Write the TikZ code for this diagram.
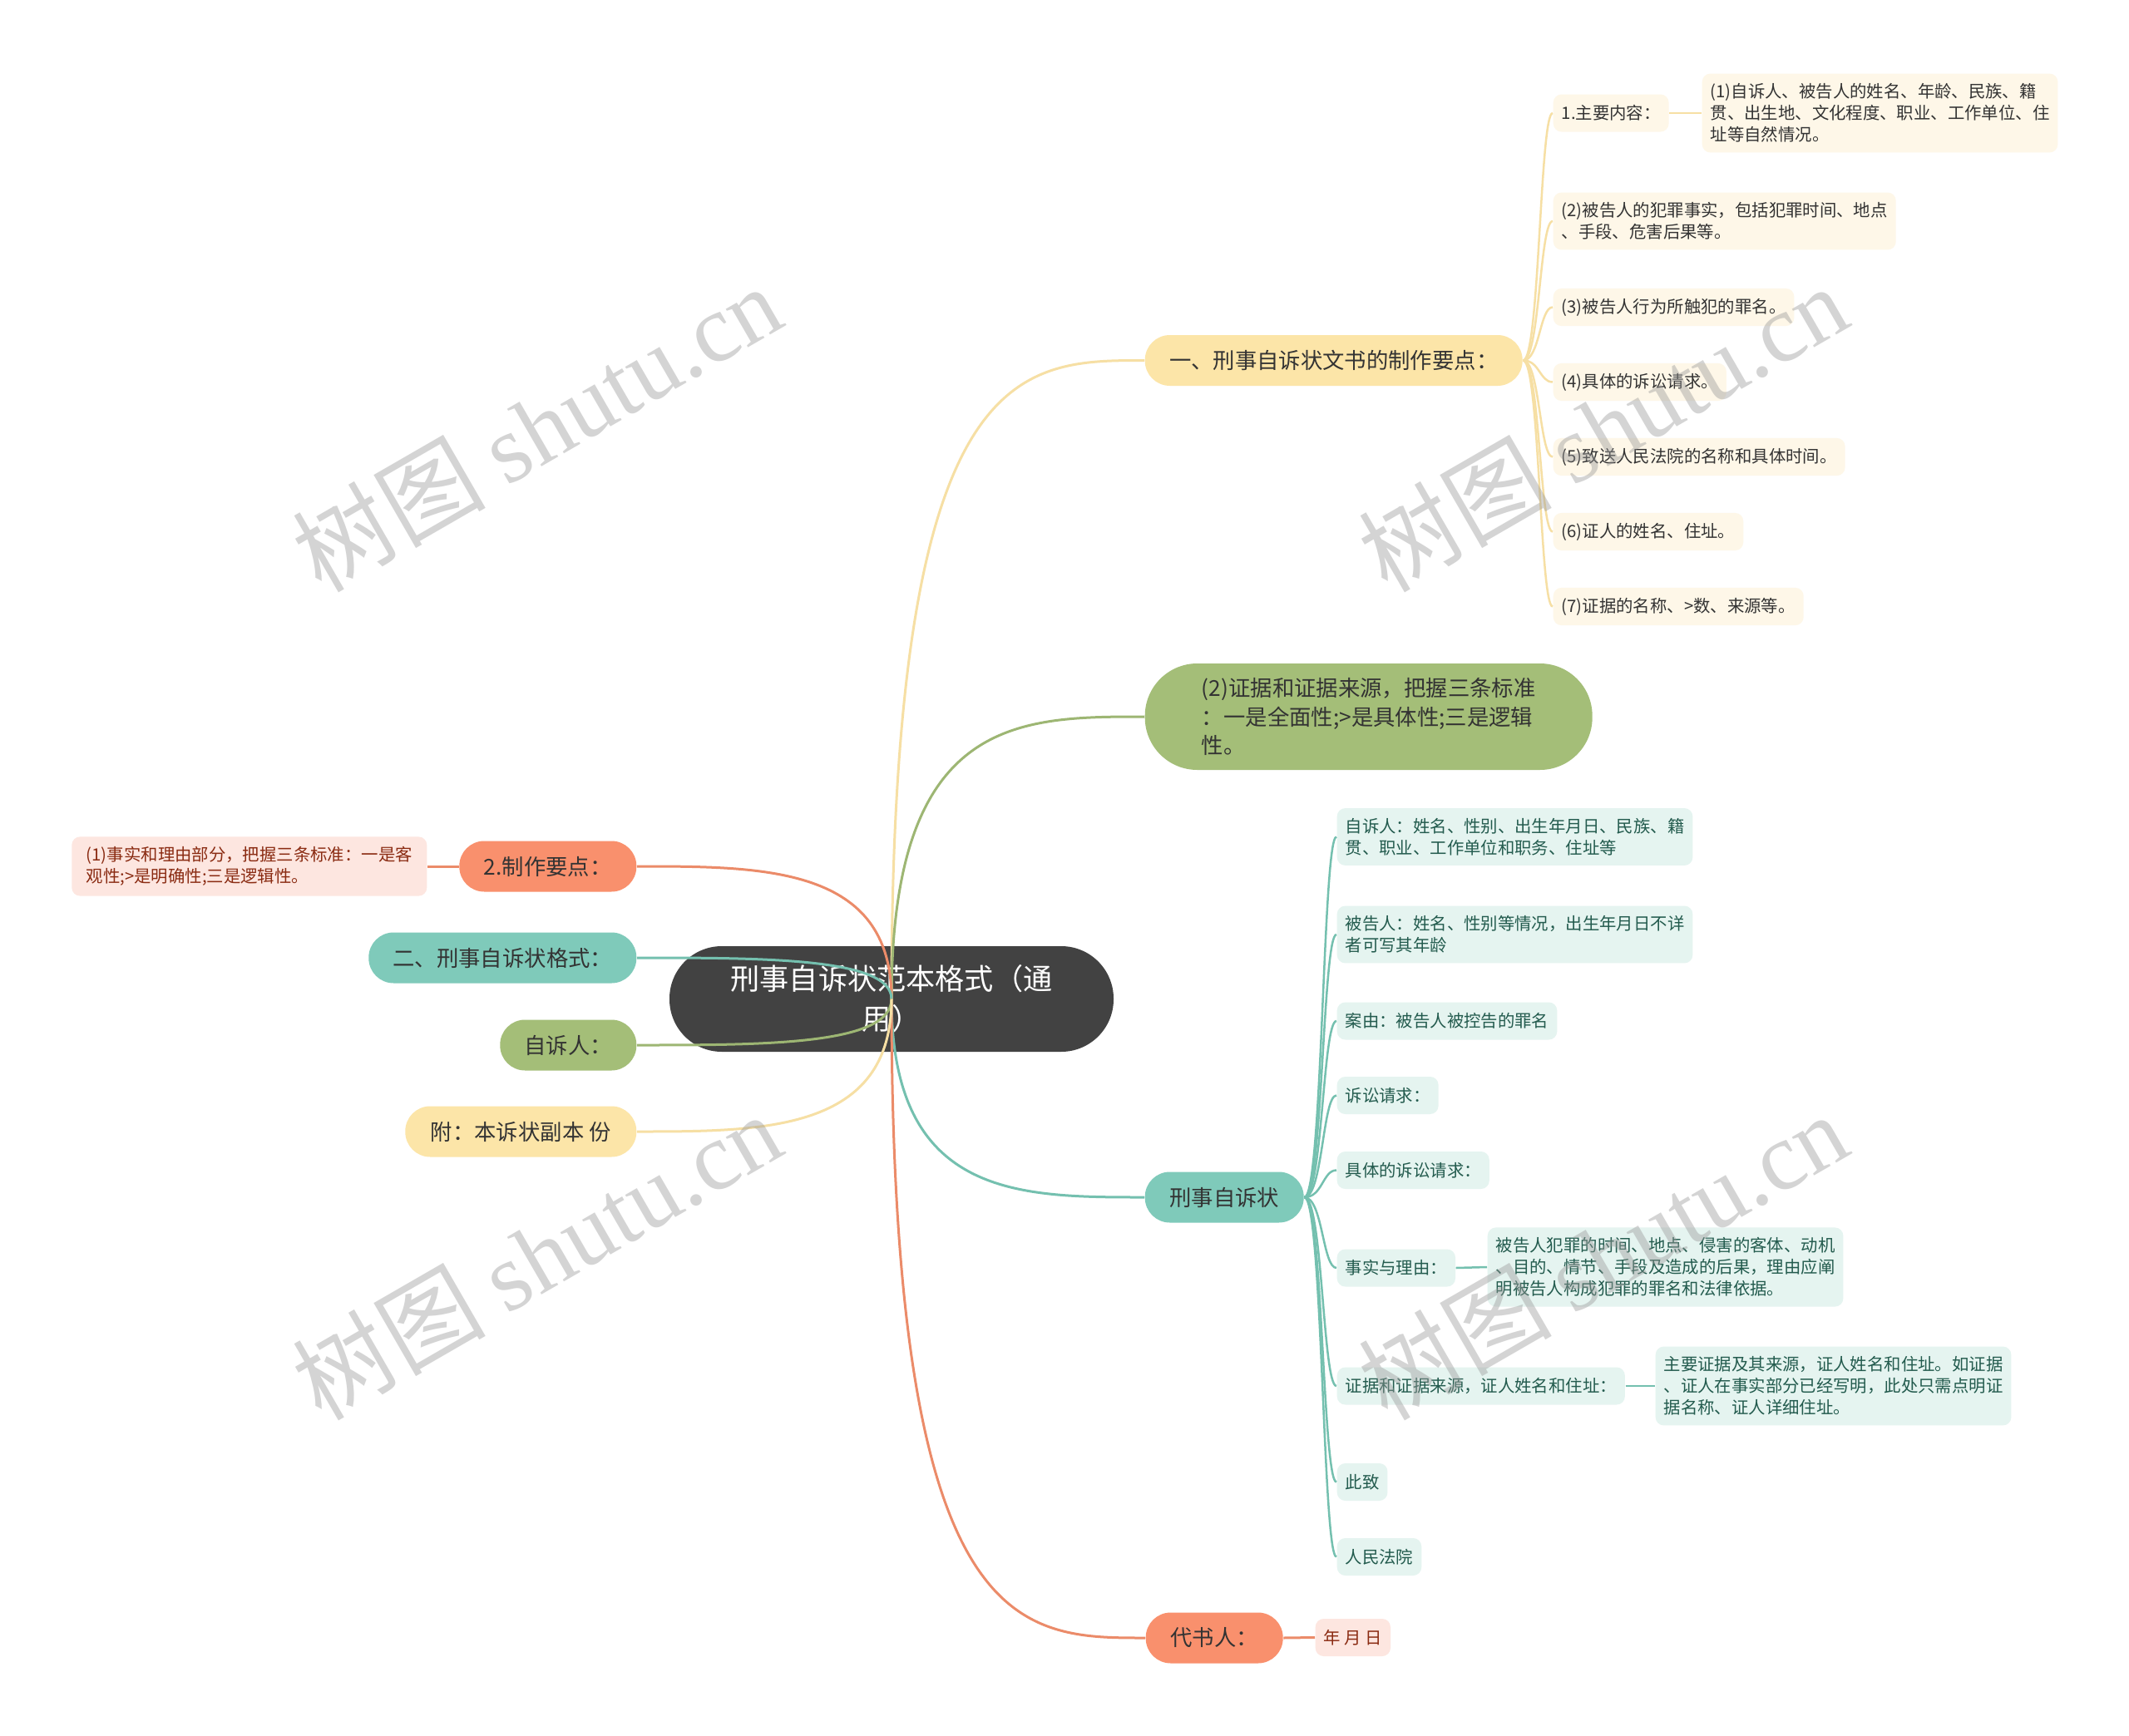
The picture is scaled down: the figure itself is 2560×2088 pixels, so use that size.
\documentclass[tikz,border=0pt]{standalone}
\usepackage{fontspec}
\setmainfont{Noto Sans CJK SC}
\newfontfamily\wmserif{Liberation Serif}
\usetikzlibrary{calc}
\definecolor{ink}{HTML}{333333}
\definecolor{rootgray}{HTML}{424242}
\definecolor{yelfill}{HTML}{FCE5A8}
\definecolor{yelstroke}{HTML}{F6DFA4}
\definecolor{yelleafbg}{HTML}{FEF7E8}
\definecolor{grnfill}{HTML}{A4BE78}
\definecolor{grnstroke}{HTML}{9DB673}
\definecolor{tealfill}{HTML}{7FCABA}
\definecolor{tealstroke}{HTML}{74C0AF}
\definecolor{tealleafbg}{HTML}{E5F4F0}
\definecolor{tealtext}{HTML}{235B4E}
\definecolor{orgfill}{HTML}{F9906D}
\definecolor{orgstroke}{HTML}{EB8B69}
\definecolor{orgleafbg}{HTML}{FDE6E0}
\definecolor{orgtext}{HTML}{8A2B12}
\tikzset{
  rootnode/.style={fill=rootgray,text=white,rounded corners=6.3mm,
                   minimum height=12.7mm,inner sep=0pt,align=center,
                   font=\fontsize{10pt}{13.7pt}\selectfont},
  branch/.style={rounded corners=3mm,minimum height=6.1mm,inner sep=0pt,
                 align=center,text=ink,font=\fontsize{7.5pt}{9.7pt}\selectfont},
  yelbranch/.style={branch,fill=yelfill},
  grnbranch/.style={branch,fill=grnfill},
  tealbranch/.style={branch,fill=tealfill},
  orgbranch/.style={branch,fill=orgfill},
  leaf/.style={rounded corners=1mm,minimum height=4.5mm,inner xsep=1mm,
               inner ysep=1.2mm,align=left,
               font=\fontsize{5.8pt}{7.4pt}\selectfont},
  yelleaf/.style={leaf,fill=yelleafbg,text=ink,anchor=west},
  tealleaf/.style={leaf,fill=tealleafbg,text=tealtext,anchor=west},
  orgleaf/.style={leaf,fill=orgleafbg,text=orgtext},
  yelline/.style={draw=yelstroke,line width=0.3mm},
  grnline/.style={draw=grnstroke,line width=0.3mm},
  tealline/.style={draw=tealstroke,line width=0.3mm},
  orgline/.style={draw=orgstroke,line width=0.3mm},
  yelsub/.style={draw=yelstroke,line width=0.25mm},
  tealsub/.style={draw=tealstroke,line width=0.25mm},
  watermark/.style={rotate=30,text=black!40,opacity=0.42,
                    font=\fontsize{33pt}{33pt}\selectfont}
}

\begin{document}
\begin{tikzpicture}[x=0.1mm,y=-0.1mm]
  \fill[white] (0,0) rectangle (2560,2088);
  \path[use as bounding box] (0,0) rectangle (2560,2088);

  % root and main branches
  \node[rootnode,minimum width=53.4mm] (root) at (1072,1201.5)
    {刑事自诉状范本格式（通\\用）};
  \node[yelbranch,minimum width=45.4mm,anchor=west] (yb) at (1376,433.5)
    {一、刑事自诉状文书的制作要点：};
  \node[grnbranch,minimum width=53.8mm,minimum height=12.8mm,
        rounded corners=6.3mm,anchor=west,align=left] (gb) at (1376,862)
    {(2)证据和证据来源，把握三条标准\\：一是全面性;>是具体性;三是逻辑\\性。};
  \node[tealbranch,minimum width=19.1mm,anchor=west] (tb) at (1376,1440)
    {刑事自诉状};
  \node[orgbranch,minimum width=16.5mm,anchor=west] (ob) at (1377,1970)
    {代书人：};

  \node[orgbranch,minimum width=21.3mm,anchor=east] (ol) at (766,1042)
    {2.制作要点：};
  \node[tealbranch,minimum width=32.2mm,anchor=east] (tl) at (766,1152)
    {二、刑事自诉状格式：};
  \node[grnbranch,minimum width=16.4mm,anchor=east] (gl) at (766,1257)
    {自诉人：};
  \node[yelbranch,minimum width=27.8mm,anchor=east] (yl) at (766,1361)
    {附：本诉状副本 份};

  % leaves
  \node[yelleaf] (yk1) at (1867,136) {1.主要内容：};
  \node[yelleaf] (yk1a) at (2046,136)
    {(1)自诉人、被告人的姓名、年龄、民族、籍\\贯、出生地、文化程度、职业、工作单位、住\\址等自然情况。};
  \node[yelleaf] (yk2) at (1867,266)
    {(2)被告人的犯罪事实，包括犯罪时间、地点\\、手段、危害后果等。};
  \node[yelleaf] (yk3) at (1867,369.5) {(3)被告人行为所触犯的罪名。};
  \node[yelleaf] (yk4) at (1867,459.5) {(4)具体的诉讼请求。};
  \node[yelleaf] (yk5) at (1867,549.5) {(5)致送人民法院的名称和具体时间。};
  \node[yelleaf] (yk6) at (1867,639.5) {(6)证人的姓名、住址。};
  \node[yelleaf] (yk7) at (1867,729.5) {(7)证据的名称、>数、来源等。};

  \node[tealleaf] (tk1) at (1607,1006.5)
    {自诉人：姓名、性别、出生年月日、民族、籍\\贯、职业、工作单位和职务、住址等};
  \node[tealleaf] (tk2) at (1607,1124)
    {被告人：姓名、性别等情况，出生年月日不详\\者可写其年龄};
  \node[tealleaf] (tk3) at (1607,1228) {案由：被告人被控告的罪名};
  \node[tealleaf] (tk4) at (1607,1317.5) {诉讼请求：};
  \node[tealleaf] (tk5) at (1607,1407.5) {具体的诉讼请求：};
  \node[tealleaf] (tk6) at (1607,1525) {事实与理由：};
  \node[tealleaf] (tk6a) at (1788,1524)
    {被告人犯罪的时间、地点、侵害的客体、动机\\、目的、情节、手段及造成的后果，理由应阐\\明被告人构成犯罪的罪名和法律依据。};
  \node[tealleaf] (tk7) at (1607,1667) {证据和证据来源，证人姓名和住址：};
  \node[tealleaf] (tk7a) at (1990,1667)
    {主要证据及其来源，证人姓名和住址。如证据\\、证人在事实部分已经写明，此处只需点明证\\据名称、证人详细住址。};
  \node[tealleaf] (tk8) at (1607,1782.5) {此致};
  \node[tealleaf] (tk9) at (1607,1872.5) {人民法院};

  \node[orgleaf,anchor=east,minimum width=42.7mm] (ok1) at (514,1042)
    {(1)事实和理由部分，把握三条标准：一是客\\观性;>是明确性;三是逻辑性。};
  \node[orgleaf,anchor=west] (ok2) at (1581,1969.5) {年 月 日};

  % connectors
  \foreach \n/\s in {yb/yelline,gb/grnline,tb/tealline,ob/orgline}
    \draw[\s] (root.center) .. controls (root.center |- \n.west)
      and ($(root.center |- \n.west)!0.5!(\n.west)$) .. (\n.west);
  \foreach \n/\s in {ol/orgline,tl/tealline,gl/grnline,yl/yelline}
    \draw[\s] (root.center) .. controls (root.center |- \n.east)
      and ($(root.center |- \n.east)!0.5!(\n.east)$) .. (\n.east);

  \foreach \k in {yk1,yk2,yk3,yk4,yk5,yk6,yk7}
    \draw[yelsub] (yb.east) .. controls +(20,0)
      and ($(yb.east |- \k.west)+(20,0)$) .. (\k.west);
  \foreach \k in {tk1,tk2,tk3,tk4,tk5,tk6,tk7,tk8,tk9}
    \draw[tealsub] (tb.east) .. controls +(22,0)
      and ($(tb.east |- \k.west)+(22,0)$) .. (\k.west);

  \draw[yelsub] (yk1.east) -- (yk1a.west);
  \draw[tealsub] (tk6.east) -- (tk6a.west);
  \draw[tealsub] (tk7.east) -- (tk7a.west);
  \draw[orgline] (ok1.east) -- (ol.west);
  \draw[orgline] (ob.east) -- (ok2.west);

  % watermarks
  \foreach \x/\y [count=\i] in {645/514,1927/514,645/1510,1927/1510}
    \node[watermark] (wm\i) at (\x,\y) {树图 {\wmserif shutu.cn}};
\end{tikzpicture}
\end{document}
